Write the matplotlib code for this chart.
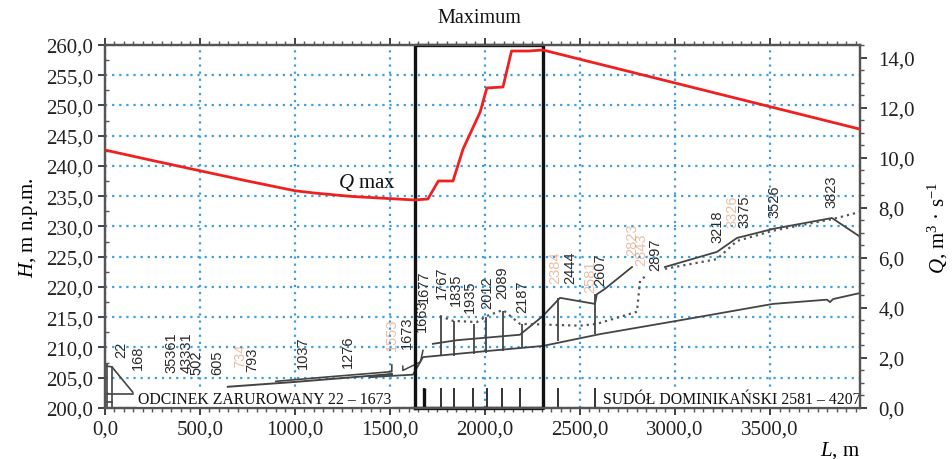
import matplotlib
matplotlib.use("Agg")
import matplotlib.pyplot as plt
from matplotlib.ticker import MultipleLocator, FuncFormatter
import matplotlib.transforms as mtransforms

plt.rcParams['font.family'] = ['Liberation Serif', 'DejaVu Serif']
plt.rcParams['mathtext.fontset'] = 'custom'
plt.rcParams['mathtext.rm'] = 'Liberation Serif'
plt.rcParams['mathtext.it'] = 'Liberation Serif:italic'

# ---------------- data ----------------
# Q (red line, right axis)
q_L = [0, 250, 500, 750, 1000, 1100, 1300, 1630, 1700, 1755, 1832, 1885, 1975, 2010, 2095, 2140, 2230, 2305, 3970]
q_Q = [10.32, 9.90, 9.49, 9.08, 8.69, 8.60, 8.46, 8.32, 8.36, 9.08, 9.08, 10.36, 11.84, 12.80, 12.84, 14.28, 14.28, 14.32, 11.16]

# bed line (lower solid)
bed_L = [1395, 1621, 1674, 1974, 2305, 2605, 3010, 3516, 3800, 3816, 3832, 3974]
bed_H = [205.1, 205.5, 208.4, 209.3, 210.25, 212.2, 214.4, 217.2, 217.9, 217.5, 218.0, 219.0]

# pipe section (two close lines)
pipe_low_L = [647, 1000, 1510]
pipe_low_H = [203.5, 204.3, 205.6]
pipe_up_L = [900, 1200, 1510, 1510]
pipe_up_H = [204.4, 205.2, 206.0, 207.1]

# hook near 1673
hook_L = [1568, 1568, 1660, 1674]
hook_H = [206.9, 206.2, 207.6, 209.5]

# upper solid line (two parts)
top1_L = [1726, 1853, 2184, 2305, 2395, 2579, 2589, 2632, 2774]
top1_H = [210.6, 211.2, 212.1, 215.2, 218.2, 217.2, 218.8, 219.7, 223.3]
top2_L = [2947, 3221, 3326, 3516, 3826, 3974]
top2_H = [223.3, 225.8, 228.1, 229.6, 231.4, 228.3]

# dotted line
dot_L = [1763, 1832, 1958, 2010, 2095, 2184, 2500, 2589, 2800, 2816, 2845]
dot_H = [215.2, 214.4, 214.2, 215.2, 216.2, 213.9, 213.6, 213.9, 215.9, 221.0, 221.8]
dot2_L = [2947, 3221, 3326, 3516, 3826, 3974]
dot2_H = [223.0, 224.6, 227.6, 229.3, 231.2, 232.4]

# station verticals
vert_L = [1767, 1837, 1940, 2005, 2095, 2195, 2384, 2581]
vert_top = [215.2, 214.4, 213.9, 215.0, 216.0, 213.9, 218.2, 218.8]
vert_bot = [208.6, 208.6, 208.9, 209.1, 209.4, 209.9, 211.1, 212.2]

# bottom station ticks
btick_L = [1677, 1767, 1835, 1935, 2012, 2089, 2187, 2384, 2581]

# left corner lines (0-168 m)
corner_segments = [
    ([10, 10], [200, 207.3]),
    ([37, 37], [200, 206.7]),
    ([10, 37, 147], [206.9, 206.8, 202.6]),
    ([10, 147], [202.3, 202.3]),
    ([0, 37], [201.0, 201.0]),
]

# station labels
lab_text = ['22', '168', '35361', '43331', '502', '605', '793', '1037', '1276', '1673',
            '1663', '1677', '1767', '1835', '1935', '2012', '2089', '2187', '2444', '2607',
            '2897', '3218', '3375', '3526', '3823']
lab_L = [89, 174, 353, 432, 484, 589, 774, 1042, 1279, 1589,
         1668, 1678, 1774, 1847, 1921, 2011, 2089, 2195, 2447, 2605,
         2895, 3221, 3368, 3526, 3826]
lab_H = [209.75, 208.4, 209.3, 209.3, 207.6, 207.6, 208.1, 209.3, 209.4, 212.6,
         215.4, 220.2, 220.8, 219.7, 218.5, 219.2, 220.8, 218.5, 223.3, 223.0,
         225.5, 230.1, 232.6, 234.2, 235.9]
olab_text = ['1553', '734', '2384', '2581', '2823', '2843', '3326']
olab_L = [1511, 711, 2368, 2553, 2774, 2821, 3305]
olab_H = [212.2, 208.8, 223.3, 221.8, 227.9, 226.3, 232.6]

box_L = [1632, 2305]

# ---------------- plot ----------------
fig = plt.figure(figsize=(9.53, 4.6), dpi=100)
ax = fig.add_axes([0.110, 0.111, 0.7925, 0.789])
ax2 = ax.twinx()

gcol = '#444444'
grid_col = '#3a9ee0'

ax.set_xlim(0, 3974)
ax.set_ylim(200, 260)
ax2.set_ylim(0, 14.52)

ax.xaxis.set_major_locator(MultipleLocator(500))
ax.xaxis.set_minor_locator(MultipleLocator(50))
ax.yaxis.set_major_locator(MultipleLocator(5))
ax.yaxis.set_minor_locator(MultipleLocator(2.5))
ax2.yaxis.set_major_locator(MultipleLocator(2))
ax2.yaxis.set_minor_locator(MultipleLocator(0.5))

fmt = FuncFormatter(lambda v, p: f"{v:.1f}".replace('.', ','))
ax.xaxis.set_major_formatter(fmt)
ax.yaxis.set_major_formatter(fmt)
ax2.yaxis.set_major_formatter(fmt)

ax.grid(True, which='major', color=grid_col, linestyle=(0, (1, 2.2)), linewidth=1.6)
ax.set_axisbelow(True)

for a in (ax, ax2):
    for s in a.spines.values():
        s.set_color('#555555')
        s.set_linewidth(1.6)
ax.tick_params(axis='both', which='major', labelsize=15, colors='#222222', length=5, width=1.2, direction='out')
ax.tick_params(axis='x', which='minor', length=3, width=1, direction='out', color='#555555')
ax.tick_params(axis='y', which='minor', length=3, width=1, direction='in', color='#555555')
ax.tick_params(axis='x', which='both', top=True, labeltop=False)
ax2.tick_params(axis='y', which='major', labelsize=15, colors='#222222', length=5, width=1.2, direction='out', pad=8)
ax2.tick_params(axis='y', which='minor', length=3, width=1, direction='out', color='#555555')

# gray profile lines
ax.plot(bed_L, bed_H, color=gcol, lw=1.3)
ax.plot(pipe_low_L, pipe_low_H, color=gcol, lw=1.4)
ax.plot(pipe_up_L, pipe_up_H, color=gcol, lw=1.2)
ax.plot([pipe_low_L[-1], bed_L[0]], [pipe_low_H[-1], bed_H[0]], color=gcol, lw=1.3)
ax.plot(hook_L, hook_H, color=gcol, lw=1.1)
ax.plot(top1_L, top1_H, color=gcol, lw=1.3)
ax.plot(top2_L, top2_H, color=gcol, lw=1.3)
ax.plot(dot_L, dot_H, color='#555555', lw=1.6, linestyle=(0, (1, 1.8)))
ax.plot(dot2_L, dot2_H, color='#555555', lw=1.6, linestyle=(0, (1, 1.8)))
ax.vlines(vert_L, vert_bot, vert_top, color=gcol, lw=1.3)
for xs, ys in corner_segments:
    ax.plot(xs, ys, color=gcol, lw=1.2)

# bottom station ticks
ax.vlines(btick_L, 200, 203.3, color='#333333', lw=1.4)
ax.vlines(btick_L[:1], 200, 203.3, color='#111111', lw=2.4)

# station labels
for t, x, y in zip(lab_text, lab_L, lab_H):
    ax.text(x, y, t, rotation=90, ha='center', va='center', fontsize=10.5,
            family=['Liberation Sans', 'DejaVu Sans'], color='#2a2a2a')
for t, x, y in zip(olab_text, olab_L, olab_H):
    ax.text(x, y, t, rotation=90, ha='center', va='center', fontsize=10.5,
            family=['Liberation Sans', 'DejaVu Sans'], color='#d0703a', alpha=0.45)

# section captions
ax.text(174, 201.5, 'ODCINEK ZARUROWANY 22 – 1673', fontsize=11.3, va='center', ha='left', color='#111111',
        bbox=dict(facecolor='white', edgecolor='none', pad=0.5))
ax.text(2621, 201.5, 'SUDÓŁ DOMINIKAŃSKI 2581 – 4207', fontsize=11.3, va='center', ha='left', color='#111111',
        bbox=dict(facecolor='white', edgecolor='none', pad=0.5))

# maximum box
ax.plot([box_L[0], box_L[0], box_L[1], box_L[1], box_L[0]], [200, 260, 260, 200, 200],
        color='#111111', lw=2.4, clip_on=False, zorder=5)
trans = mtransforms.blended_transform_factory(ax.transData, ax.transAxes)
ax.text((box_L[0] + box_L[1]) / 2, 1.077, 'Maximum', transform=trans, ha='center', va='center',
        fontsize=14.5, color='#111111')

# red Q line
ax2.plot(q_L, q_Q, color='#f02020', lw=2.0, zorder=4)
ax.text(1379, 237.4, r'$Q$ max', fontsize=15, ha='center', va='center', color='#111111')

# axis labels
ax.set_ylabel(r'$H$, m n.p.m.', fontsize=15, labelpad=4)
ax2.set_ylabel(r'$Q$, m$^{3}$ · s$^{-1}$', fontsize=15, labelpad=8)
ax.text(1.0, -0.115, r'$L$, m', transform=ax.transAxes, ha='right', va='center', fontsize=15)

fig.savefig('out.png', dpi=100)
